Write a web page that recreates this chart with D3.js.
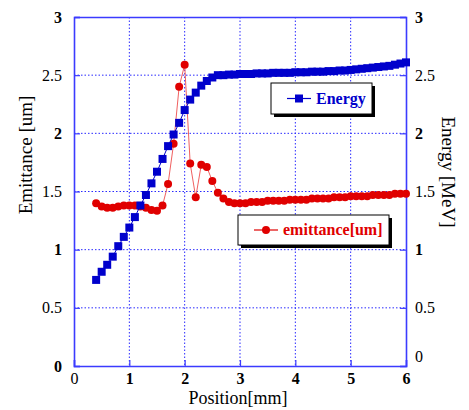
<!DOCTYPE html>
<html>
<head>
<meta charset="utf-8">
<script src="https://cdn.jsdelivr.net/npm/d3@7/dist/d3.min.js"></script>
<style>
  html, body { margin: 0; padding: 0; background: #fff; overflow: hidden; }
  svg { display: block; }
</style>
</head>
<body>
<svg id="chart" width="469" height="410"></svg>
<script>
// Positions along the beam line [mm]
const positions = [0.4,0.5,0.6,0.7,0.8,0.9,1.0,1.1,1.2,1.3,1.4,1.5,1.6,1.7,1.8,1.9,2.0,2.1,2.2,2.3,2.4,2.5,2.6,2.7,2.8,2.9,3.0,3.1,3.2,3.3,3.4,3.5,3.6,3.7,3.8,3.9,4.0,4.1,4.2,4.3,4.4,4.5,4.6,4.7,4.8,4.9,5.0,5.1,5.2,5.3,5.4,5.5,5.6,5.7,5.8,5.9,6.0];

// Beam energy [MeV]
const energy = [0.74,0.81,0.87,0.94,1.03,1.11,1.19,1.28,1.38,1.47,1.57,1.67,1.78,1.89,1.99,2.09,2.20,2.29,2.35,2.41,2.45,2.48,2.50,2.50,2.505,2.505,2.51,2.51,2.51,2.515,2.515,2.515,2.52,2.52,2.52,2.52,2.525,2.525,2.525,2.53,2.53,2.53,2.535,2.535,2.54,2.54,2.545,2.55,2.555,2.56,2.565,2.57,2.575,2.58,2.59,2.60,2.61];

// Normalized emittance [um]
const emittance = [1.40,1.37,1.36,1.36,1.37,1.38,1.38,1.38,1.37,1.36,1.34,1.335,1.38,1.565,1.91,2.40,2.59,1.74,1.45,1.73,1.71,1.59,1.49,1.44,1.41,1.40,1.40,1.40,1.41,1.41,1.41,1.42,1.42,1.42,1.42,1.43,1.43,1.43,1.43,1.44,1.44,1.44,1.44,1.45,1.45,1.45,1.46,1.46,1.46,1.46,1.47,1.47,1.47,1.47,1.48,1.48,1.48];

const xTicks = [0,1,2,3,4,5,6];
const yTicks = [0,0.5,1,1.5,2,2.5,3];
const yTickLabels = ["0","0.5","1","1.5","2","2.5","3"];

const serif = "'Liberation Serif', 'Times New Roman', 'DejaVu Serif', serif";
const frameBlue = "#3b3bff";
const blue = "#0000cc";
const red = "#e00000";

const svg = d3.select("#chart");
const L = 74, R = 406, T = 17, B = 366;

const x = d3.scaleLinear().domain([0, 6]).range([L, R]);
const yLeft = d3.scaleLinear().domain([0, 3]).range([B, T]);
const yRight = d3.scaleLinear().domain([0, 3]).range([B, T]);

// dotted grid
const grid = svg.append("g");
grid.selectAll(".gx").data(xTicks.slice(1, -1)).join("line")
  .attr("x1", d => x(d)).attr("x2", d => x(d))
  .attr("y1", T).attr("y2", B)
  .attr("stroke", "#2a2aff").attr("stroke-width", 1).attr("stroke-dasharray", "1.5,2");
grid.selectAll(".gy").data(yTicks.slice(1, -1)).join("line")
  .attr("x1", L).attr("x2", R)
  .attr("y1", d => yLeft(d)).attr("y2", d => yLeft(d))
  .attr("stroke", "#2a2aff").attr("stroke-width", 1).attr("stroke-dasharray", "1.5,2");

// axes with inward ticks
const axBottom = svg.append("g").attr("transform", `translate(0,${B})`)
  .call(d3.axisBottom(x).tickValues(xTicks).tickSize(-6).tickFormat(d3.format("d")).tickPadding(7));
const axLeft = svg.append("g").attr("transform", `translate(${L},0)`)
  .call(d3.axisLeft(yLeft).tickValues(yTicks).tickSize(-6).tickPadding(12)
    .tickFormat((d, i) => yTickLabels[i]));
const axRight = svg.append("g").attr("transform", `translate(${R},0)`)
  .call(d3.axisRight(yRight).tickValues(yTicks).tickSize(-6).tickPadding(9)
    .tickFormat((d, i) => yTickLabels[i]));
const axTop = svg.append("g").attr("transform", `translate(0,${T})`)
  .call(d3.axisTop(x).tickValues(xTicks).tickSize(0).tickFormat(""));

[axBottom, axLeft, axRight, axTop].forEach(g => {
  g.attr("font-family", serif).attr("font-size", 16);
  g.select(".domain").attr("stroke", frameBlue).attr("stroke-width", 1.6);
  g.selectAll(".tick line").attr("stroke", frameBlue).attr("stroke-width", 1.2);
  g.selectAll(".tick text").attr("fill", "#000")
    .style("font-family", serif).style("font-size", "16px");
});
axLeft.selectAll(".tick text").attr("dy", "0.32em");
axRight.selectAll(".tick text").attr("dy", d => d === 0 ? "-0.3em" : "0.32em");
// slightly heavier whole-number labels
axLeft.selectAll(".tick text").style("font-weight", d => Number.isInteger(d) ? "bold" : "normal");
axRight.selectAll(".tick text").style("font-weight", d => (Number.isInteger(d) && d > 0) ? "bold" : "normal");
axBottom.selectAll(".tick text").style("font-weight", d => d > 0 ? "bold" : "normal");

// series lines
const lineE = d3.line().x((d, i) => x(positions[i])).y(d => yRight(d));
const lineM = d3.line().x((d, i) => x(positions[i])).y(d => yLeft(d));

svg.append("path").datum(emittance).attr("d", lineM)
  .attr("fill", "none").attr("stroke", "#f06060").attr("stroke-width", 1);
svg.append("g").selectAll("circle").data(emittance).join("circle")
  .attr("cx", (d, i) => x(positions[i])).attr("cy", d => yLeft(d))
  .attr("r", 4).attr("fill", red);

svg.append("path").datum(energy).attr("d", lineE)
  .attr("fill", "none").attr("stroke", blue).attr("stroke-width", 1);
svg.append("g").selectAll("rect").data(energy).join("rect")
  .attr("x", (d, i) => x(positions[i]) - 4).attr("y", d => yRight(d) - 4)
  .attr("width", 8).attr("height", 8).attr("fill", blue);

// legends
function legend(x0, y0, w, h, color, label, marker) {
  const g = svg.append("g");
  g.append("rect").attr("x", x0 + 3).attr("y", y0 + 3).attr("width", w).attr("height", h).attr("fill", "#000");
  g.append("rect").attr("x", x0).attr("y", y0).attr("width", w).attr("height", h)
    .attr("fill", "#fff").attr("stroke", "#000").attr("stroke-width", 1);
  const cy = y0 + h / 2;
  g.append("line").attr("x1", x0 + 16).attr("x2", x0 + 40).attr("y1", cy).attr("y2", cy)
    .attr("stroke", color).attr("stroke-width", 1.2);
  if (marker === "square") {
    g.append("rect").attr("x", x0 + 24).attr("y", cy - 4).attr("width", 8).attr("height", 8).attr("fill", color);
  } else {
    g.append("circle").attr("cx", x0 + 28).attr("cy", cy).attr("r", 4).attr("fill", color);
  }
  g.append("text").attr("x", x0 + 45).attr("y", cy + 5).attr("fill", color)
    .style("font-family", serif).style("font-size", "16px").style("font-weight", "bold").text(label);
}
legend(271, 83, 101, 31, blue, "Energy", "square");
legend(238, 215, 151, 30, red, "emittance[um]", "circle");

// axis titles
svg.append("text").attr("transform", "translate(32,155) rotate(-90)")
  .attr("text-anchor", "middle").style("font-family", serif).style("font-size", "19px").text("Emittance [um]");
svg.append("text").attr("transform", "translate(442,172) rotate(90)")
  .attr("text-anchor", "middle").style("font-family", serif).style("font-size", "19px").text("Energy [MeV]");
svg.append("text").attr("x", 238).attr("y", 404)
  .attr("text-anchor", "middle").style("font-family", serif).style("font-size", "18px").text("Position[mm]");
</script>
</body>
</html>
